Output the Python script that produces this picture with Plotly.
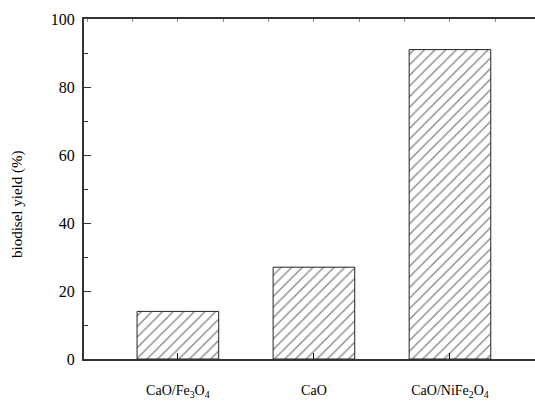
import plotly.graph_objects as go

# Catalyst categories and their biodiesel yields (%)
catalysts = ["CaO/Fe<sub>3</sub>O<sub>4</sub>", "CaO", "CaO/NiFe<sub>2</sub>O<sub>4</sub>"]
positions = [1, 2, 3]
yields = [14, 27, 91]

y_ticks = [0, 20, 40, 60, 80, 100]
top_ticks = [k / 3 for k in range(1, 12)]

FONT = "Times New Roman"
AXIS_COLOR = "#333333"

fig = go.Figure()

fig.add_trace(go.Bar(
    x=positions,
    y=yields,
    width=0.6,
    marker=dict(
        color="white",
        line=dict(color="#222222", width=1),
        pattern=dict(shape="/", fgcolor="black", bgcolor="white",
                     size=7.5, solidity=0.16, fillmode="overlay"),
    ),
    showlegend=False,
    hoverinfo="skip",
))

# Invisible trace that anchors the top frame axis
fig.add_trace(go.Scatter(
    x=[positions[0]], y=[0], xaxis="x2", mode="markers",
    marker=dict(opacity=0), showlegend=False, hoverinfo="skip",
))

fig.update_layout(
    width=535,
    height=403,
    margin=dict(l=84, r=0, t=19, b=44),
    plot_bgcolor="white",
    paper_bgcolor="white",
    font=dict(family=FONT, color="black"),
    xaxis=dict(
        range=[0.31, 3.625],
        tickmode="array",
        tickvals=positions,
        ticktext=catalysts,
        ticks="inside",
        ticklen=6,
        tickwidth=1,
        tickcolor="black",
        showline=True,
        linecolor=AXIS_COLOR,
        linewidth=2,
        showgrid=False,
        zeroline=False,
        tickfont=dict(size=14, family=FONT),
        ticklabelstandoff=17,
        layer="above traces",
    ),
    xaxis2=dict(
        overlaying="x",
        side="top",
        range=[0.31, 3.625],
        tickmode="array",
        tickvals=top_ticks,
        showticklabels=False,
        ticks="inside",
        ticklen=3,
        tickwidth=1,
        tickcolor="#888888",
        showline=True,
        linecolor=AXIS_COLOR,
        linewidth=2,
        showgrid=False,
        zeroline=False,
    ),
    yaxis=dict(
        range=[0, 100],
        tickmode="array",
        tickvals=y_ticks,
        ticks="inside",
        ticklen=7,
        tickwidth=1,
        tickcolor=AXIS_COLOR,
        minor=dict(ticks="inside", ticklen=4, dtick=10, tickcolor=AXIS_COLOR, tickwidth=1),
        showline=True,
        linecolor=AXIS_COLOR,
        linewidth=2,
        showgrid=False,
        zeroline=False,
        tickfont=dict(size=16, family=FONT),
        ticklabelstandoff=4,
    ),
    annotations=[dict(
        text="biodisel yield (%)",
        textangle=-90,
        xref="paper", yref="paper",
        x=0, y=0.453,
        xshift=-66,
        xanchor="center", yanchor="middle",
        showarrow=False,
        font=dict(size=15, family=FONT, color="black"),
    )],
)

fig.write_html("out.html")
